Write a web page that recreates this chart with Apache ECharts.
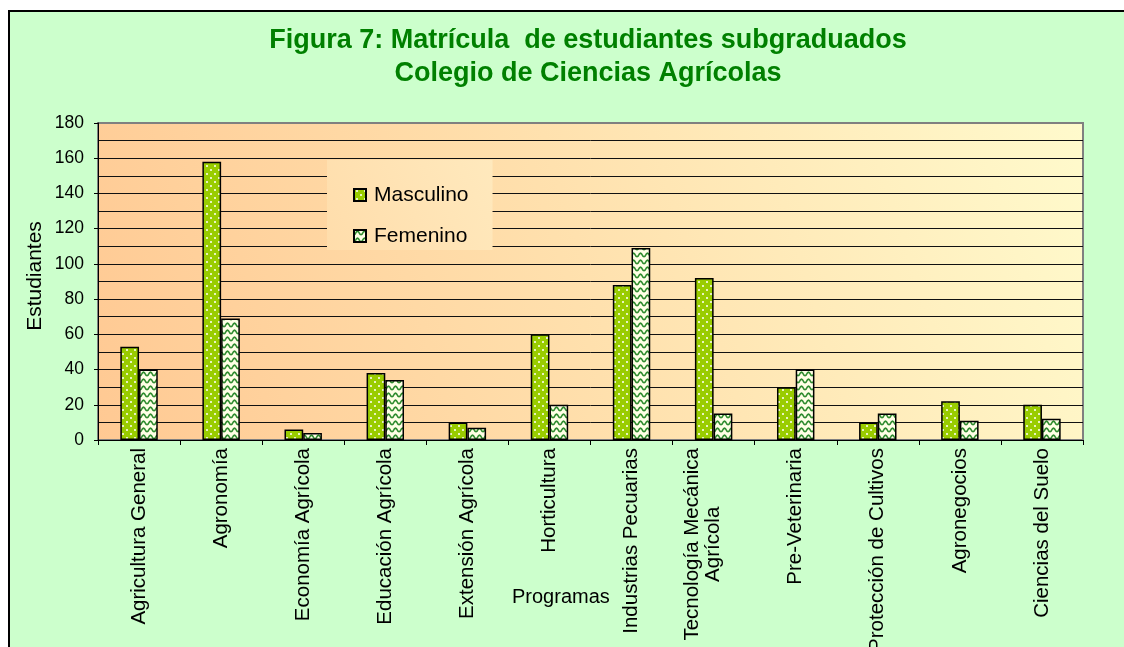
<!DOCTYPE html>
<html>
<head>
<meta charset="utf-8">
<script src="https://cdn.jsdelivr.net/npm/echarts@6/dist/echarts.min.js"></script>
<style>
  html, body { margin: 0; padding: 0; background: #fff; }
  #frame {
    position: absolute; left: 8px; top: 10px; width: 1130px; height: 650px;
    background: #CCFFCC; border-left: 2px solid #000; border-top: 2px solid #000;
  }
  #myChart { position: absolute; left: 0; top: 0; width: 1124px; height: 647px; }
</style>
</head>
<body>
<div id="frame"></div>
<div id="myChart"></div>
<script>
// datos
var categorias = [
  'Agricultura General', 'Agronomía', 'Economía Agrícola', 'Educación Agrícola',
  'Extensión Agrícola', 'Horticultura', 'Industrias Pecuarias', 'Tecnología Mecánica\nAgrícola',
  'Pre-Veterinaria', 'Protección de Cultivos', 'Agronegocios', 'Ciencias del Suelo'
];
var masculino = [53, 158, 6, 38, 10, 60, 88, 92, 30, 10, 22, 20];
var femenino = [40, 69, 4, 34, 7, 20, 109, 15, 40, 15, 11, 12];
var ticksY = [0, 20, 40, 60, 80, 100, 120, 140, 160, 180];

var FONT = '"Liberation Sans", Arial, sans-serif';

// tramas de relleno (puntos y ondas)
function puntos() {
  var c = document.createElement('canvas');
  c.width = 8; c.height = 8;
  var g = c.getContext('2d');
  g.fillStyle = '#99CC00';
  g.fillRect(0, 0, 8, 8);
  g.fillStyle = '#E8F4C0';
  g.fillRect(2, 1, 2, 2);
  g.fillRect(6, 5, 2, 2);
  return c;
}
function ondas() {
  var c = document.createElement('canvas');
  c.width = 7; c.height = 7;
  var g = c.getContext('2d');
  g.fillStyle = '#FFFFE6';
  g.fillRect(0, 0, 7, 7);
  g.strokeStyle = '#2E8B2E';
  g.lineWidth = 1.6;
  g.beginPath();
  for (var i = 0; i <= 14; i++) {
    var x = i / 2;
    var y = 3 + 1.8 * Math.cos(2 * Math.PI * x / 7);
    if (i === 0) g.moveTo(x, y); else g.lineTo(x, y);
  }
  g.stroke();
  return c;
}

var myChart = echarts.init(document.getElementById('myChart'));

var option = {
  backgroundColor: 'transparent',
  animation: false,
  textStyle: { fontFamily: FONT },
  title: {
    text: 'Figura 7: Matrícula  de estudiantes subgraduados\nColegio de Ciencias Agrícolas',
    left: 588,
    top: 24,
    textAlign: 'center',
    padding: 0,
    textStyle: {
      fontFamily: FONT, fontSize: 27, fontWeight: 'bold', color: '#008000', lineHeight: 33
    }
  },
  legend: {
    orient: 'vertical',
    left: 327,
    top: 160,
    padding: [24, 24, 3, 26],
    itemGap: 19,
    itemWidth: 12,
    itemHeight: 12,
    icon: 'rect',
    backgroundColor: new echarts.graphic.LinearGradient(0, 1, 1, 0, [
      { offset: 0, color: '#FFDDAB' },
      { offset: 1, color: '#FFE9BD' }
    ]),
    textStyle: { fontFamily: FONT, fontSize: 21, color: '#000', lineHeight: 22, padding: [0, 0, 0, 3] },
    data: ['Masculino', 'Femenino']
  },
  grid: {
    left: 98, right: 41, top: 123, bottom: 207,
    outerBoundsMode: 'none',
    containLabel: false,
    show: true,
    borderColor: '#808080',
    borderWidth: 2,
    backgroundColor: new echarts.graphic.LinearGradient(0, 1, 1, 0, [
      { offset: 0, color: '#FFC993' },
      { offset: 0.5, color: '#FFE1AE' },
      { offset: 1, color: '#FFFACC' }
    ])
  },
  graphic: [{
    type: 'text',
    left: 512,
    top: 587,
    style: {
      text: 'Programas', fontFamily: FONT, fontSize: 20, fill: '#000'
    }
  }, {
    type: 'text',
    x: 35,
    y: 276,
    rotation: Math.PI / 2,
    style: {
      text: 'Estudiantes', fontFamily: FONT, fontSize: 21, fill: '#000',
      align: 'center', verticalAlign: 'middle'
    }
  }],
  xAxis: {
    type: 'category',
    data: categorias.map(function (c) {
      if (c.indexOf('\n') >= 0) return { value: c, textStyle: { padding: [0, 0, 21, 0] } };
      return c;
    }),
    axisLine: { lineStyle: { color: '#000', width: 1 } },
    axisTick: { show: true, interval: 0, length: 5, lineStyle: { color: '#000' } },
    axisLabel: {
      interval: 0,
      rotate: 90,
      margin: 8,
      fontFamily: FONT,
      fontSize: 20.5,
      color: '#000',
      lineHeight: 21,
      formatter: function (v) {
        if (v.indexOf('\n') < 0) return v;
        return v.split('\n').map(function (s) { return '{c|' + s + '}'; }).join('\n');
      },
      rich: { c: { align: 'center', fontFamily: FONT, fontSize: 20.5, lineHeight: 21, color: '#000' } }
    }
  },
  yAxis: {
    type: 'value',
    min: ticksY[0],
    max: ticksY[ticksY.length - 1],
    interval: 20,
    axisLine: { show: true, lineStyle: { color: '#000', width: 1 } },
    axisTick: { show: true, length: 4, lineStyle: { color: '#000' } },
    axisLabel: { fontFamily: FONT, fontSize: 17.5, color: '#000', margin: 14 },
    splitLine: { show: true, showMaxLine: false, lineStyle: { color: '#111', width: 1 } },
    minorTick: { show: false, splitNumber: 2 },
    minorSplitLine: { show: true, lineStyle: { color: '#111', width: 1 } }
  },
  series: [
    {
      name: 'Masculino',
      type: 'bar',
      data: masculino,
      barWidth: '22.8%',
      barGap: '0%',
      itemStyle: {
        color: { image: puntos(), repeat: 'repeat' },
        borderColor: '#000',
        borderWidth: 1.5
      }
    },
    {
      name: 'Femenino',
      type: 'bar',
      data: femenino,
      barWidth: '22.8%',
      barGap: '0%',
      itemStyle: {
        color: { image: ondas(), repeat: 'repeat' },
        borderColor: '#000',
        borderWidth: 1.5
      }
    }
  ]
};

myChart.setOption(option);
</script>
</body>
</html>
